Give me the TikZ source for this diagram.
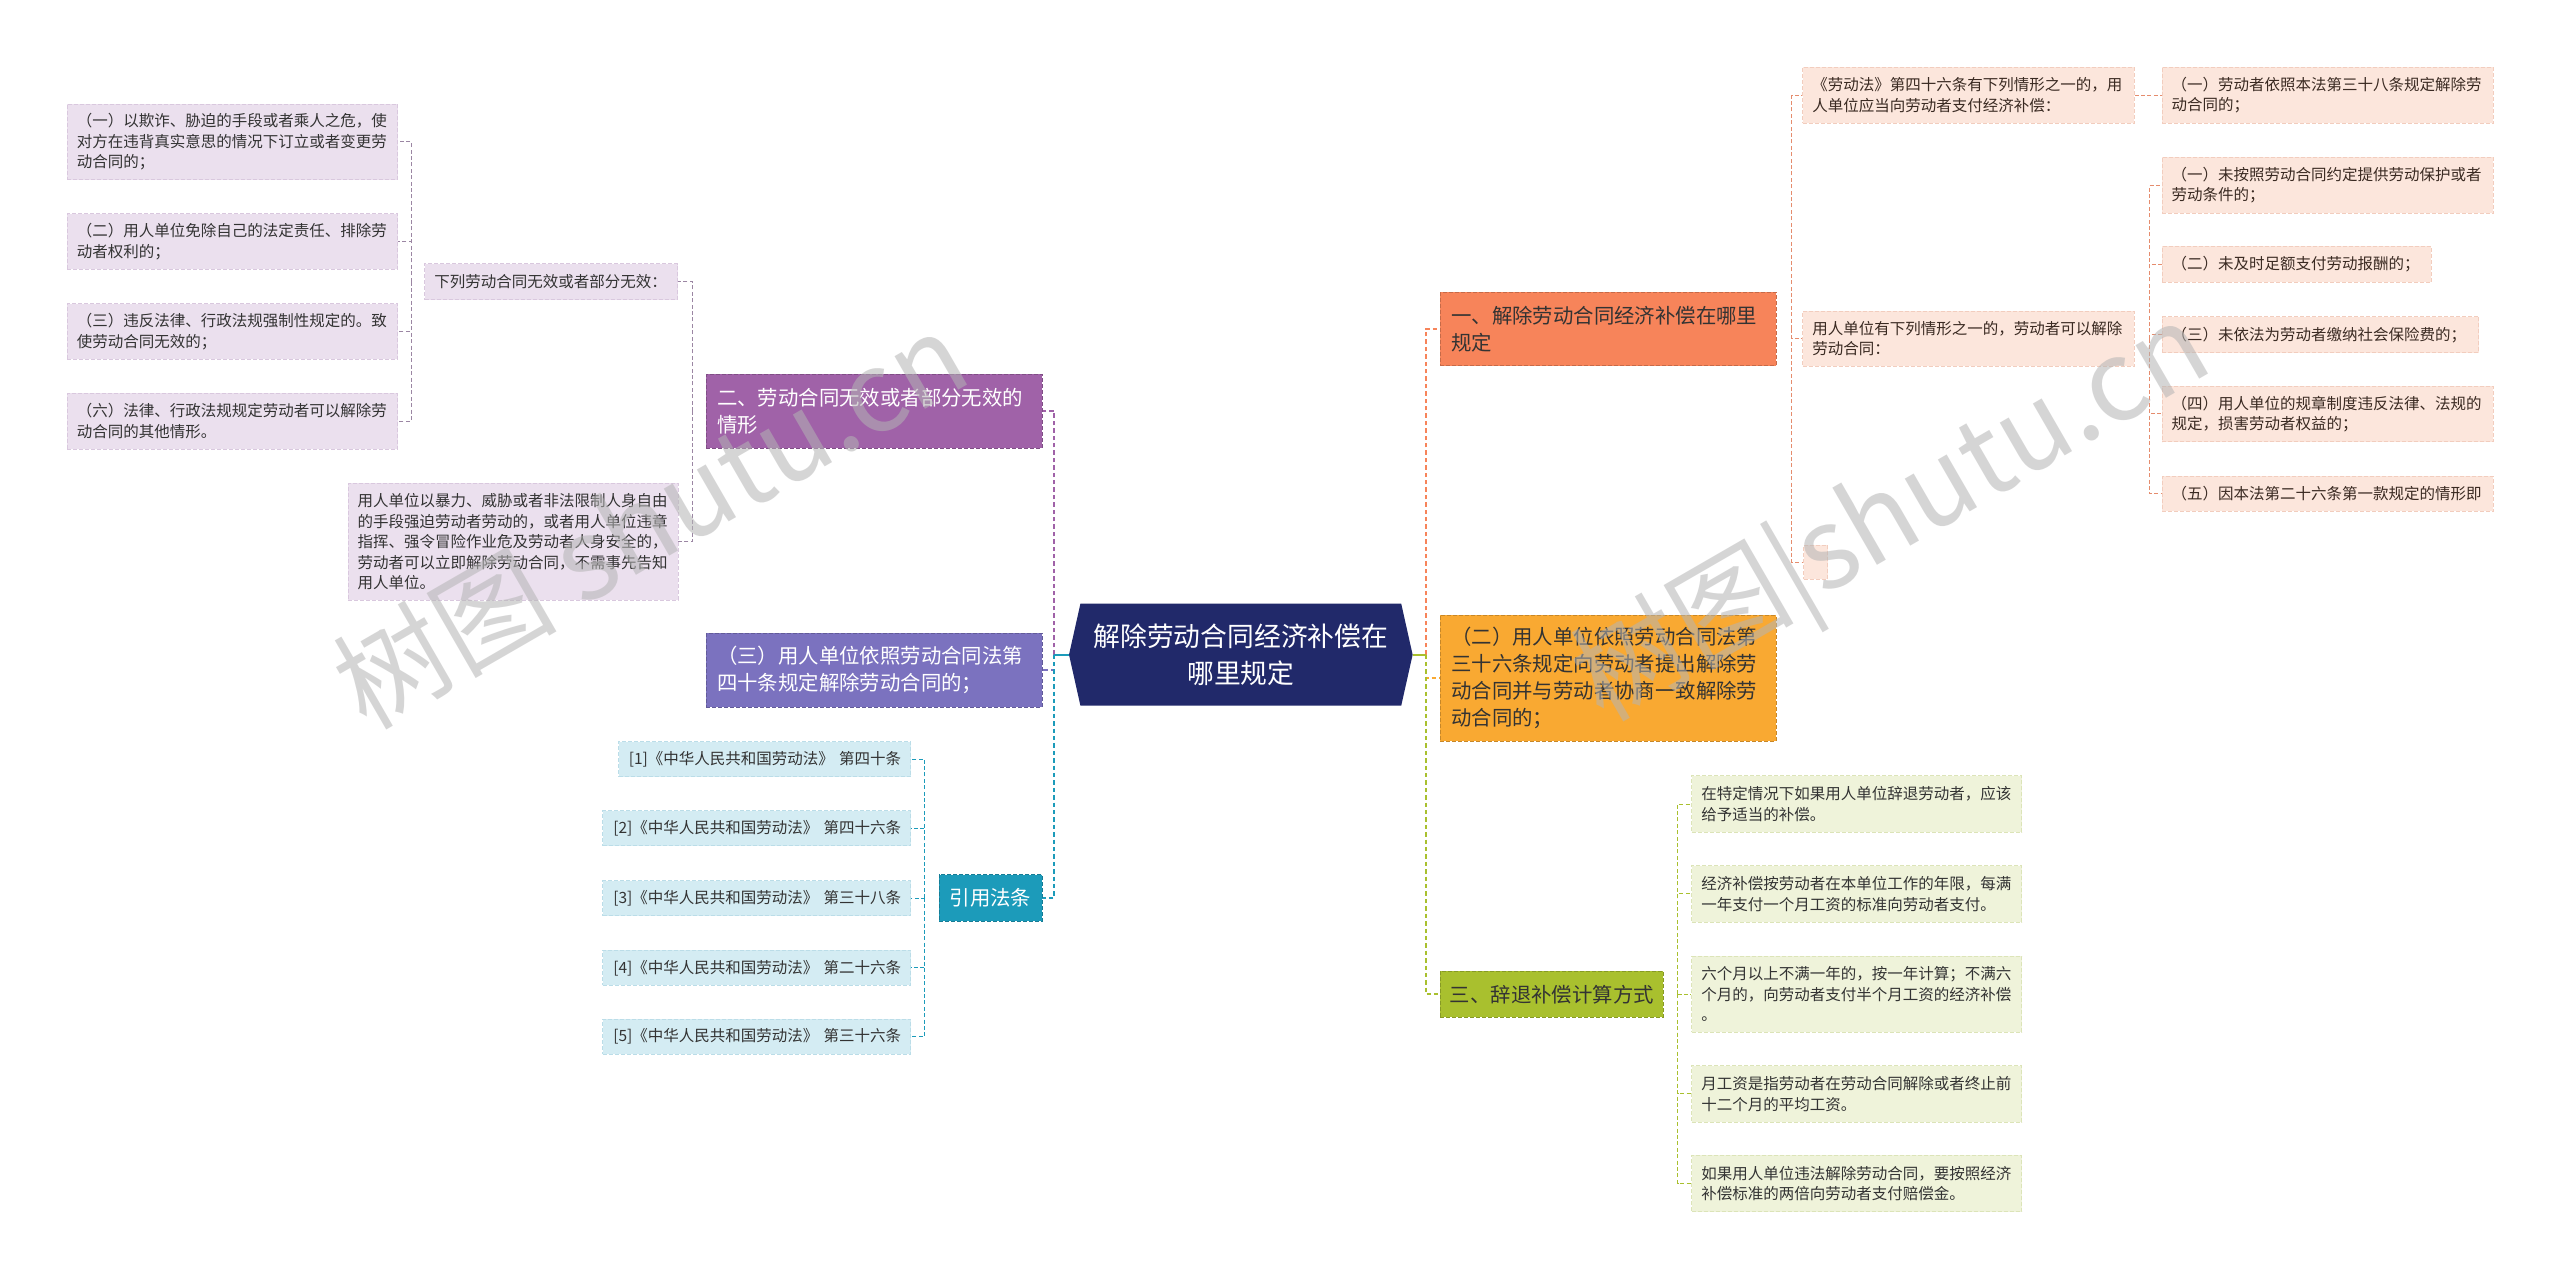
\documentclass[tikz,border=0pt]{standalone}
\usepackage{fontspec}
\setmainfont{Noto Sans CJK SC}
\pgfdeclarelayer{background}
\pgfsetlayers{background,main}
\definecolor{pleaf}{HTML}{EBE0EE}
\definecolor{pleafd}{HTML}{D9C8DE}
\definecolor{bleaf}{HTML}{D4ECF3}
\definecolor{bleafd}{HTML}{BBDDE8}
\definecolor{rleaf}{HTML}{FCE6DC}
\definecolor{rleafd}{HTML}{F2CDBE}
\definecolor{gleaf}{HTML}{EFF3DA}
\definecolor{gleafd}{HTML}{DCE4B8}
\definecolor{leaftxt}{HTML}{333333}
\definecolor{rtxt}{HTML}{3A2A22}
\definecolor{cpurple}{HTML}{A062A8}
\definecolor{cslate}{HTML}{7B72BF}
\definecolor{cteal}{HTML}{1C9BBA}
\definecolor{cnavy}{HTML}{21296A}
\definecolor{corange}{HTML}{F7845A}
\definecolor{cyellow}{HTML}{F9A932}
\definecolor{cgreen}{HTML}{A9C02E}
\definecolor{plink}{HTML}{9B86A3}
\definecolor{rlink}{HTML}{E58C6D}
\definecolor{wmgray}{HTML}{B4B4B4}
\tikzset{
  box/.style={rectangle, anchor=west, inner ysep=0pt, inner xsep=4.8pt, align=left, line width=0.4pt, dash pattern=on 2pt off 1pt},
  leaf/.style={box, font=\fontsize{7.75}{10.2}\selectfont, text=leaftxt},
  pl/.style={leaf, fill=pleaf, draw=pleafd},
  bl/.style={leaf, fill=bleaf, draw=bleafd, anchor=east, align=right},
  rl/.style={leaf, fill=rleaf, draw=rleafd, text=rtxt},
  gl/.style={leaf, fill=gleaf, draw=gleafd},
  mainnode/.style={box, inner xsep=5.4pt, text width=157pt, font=\fontsize{10.2}{13.5}\selectfont},
  rootnode/.style={rectangle, inner sep=0pt, minimum width=171.4pt, minimum height=50.6pt, align=center, text=white, font=\fontsize{13.4}{18.1}\selectfont},
  lk/.style={line width=0.5pt, dash pattern=on 2pt off 1.2pt},
  trunk/.style={line width=0.9pt, dash pattern=on 2.2pt off 1.5pt},
  wm/.style={rotate=30, text=wmgray, opacity=0.55, font=\fontsize{56}{56}\selectfont, inner sep=0pt},
}
\begin{document}
\begin{tikzpicture}[x=0.8163pt,y=-0.8163pt]
\begin{pgfonlayer}{background}
\fill[white] (0,0) rectangle (1568,783);
\end{pgfonlayer}
\useasboundingbox (0,0) rectangle (1568,783);

% root
\node[rootnode] (root) at (760,401) {解除劳动合同经济补偿在\\哪里规定};
\begin{pgfonlayer}{background}
\fill[cnavy] (root.west) -- ([xshift=5.7pt]root.north west) -- ([xshift=-5.7pt]root.north east) -- (root.east) -- ([xshift=-5.7pt]root.south east) -- ([xshift=5.7pt]root.south west) -- cycle;
\end{pgfonlayer}

% left main branches
\node[mainnode, fill=cpurple, draw=cpurple!80!black, text=white, minimum height=37.1pt] (b2) at (432.4,251.8) {二、劳动合同无效或者部分无效的\\情形};
\node[mainnode, fill=cslate, draw=cslate!80!black, text=white, minimum height=36.7pt] (b3) at (432.4,410.5) {（三）用人单位依照劳动合同法第\\四十条规定解除劳动合同的；};
\node[box, fill=cteal, draw=cteal!80!black, text=white, inner xsep=5.3pt, minimum height=23.3pt, font=\fontsize{10.2}{13.5}\selectfont] (yf) at (575,550) {引用法条};

% purple leaves
\node[pl, text width=155.7pt, minimum height=37.8pt] (p1) at (40.9,86.9) {（一）以欺诈、胁迫的手段或者乘人之危，使\\对方在违背真实意思的情况下订立或者变更劳\\动合同的；};
\node[pl, text width=155.7pt, minimum height=27.8pt] (p2) at (40.9,148) {（二）用人单位免除自己的法定责任、排除劳\\动者权利的；};
\node[pl, text width=155.7pt, minimum height=27.8pt] (p3) at (40.9,203) {（三）违反法律、行政法规强制性规定的。致\\使劳动合同无效的；};
\node[pl, text width=155.7pt, minimum height=27.8pt] (p6) at (40.9,258) {（六）法律、行政法规规定劳动者可以解除劳\\动合同的其他情形。};
\node[pl, text width=116.7pt, minimum height=18pt] (xl) at (260,172.5) {下列劳动合同无效或者部分无效：};
\node[pl, text width=155.4pt, minimum height=58.4pt] (bl) at (212.9,331.8) {用人单位以暴力、威胁或者非法限制人身自由\\的手段强迫劳动者劳动的，或者用人单位违章\\指挥、强令冒险作业危及劳动者人身安全的，\\劳动者可以立即解除劳动合同，不需事先告知\\用人单位。};

% citations
\node[bl, text width=136.4pt, minimum height=17.6pt] (c1) at (558,465) {[1]《中华人民共和国劳动法》 第四十条};
\node[bl, text width=144.3pt, minimum height=17.6pt] (c2) at (558,507.3) {[2]《中华人民共和国劳动法》 第四十六条};
\node[bl, text width=144.3pt, minimum height=17.6pt] (c3) at (558,550.2) {[3]《中华人民共和国劳动法》 第三十八条};
\node[bl, text width=144.3pt, minimum height=17.6pt] (c4) at (558,592.8) {[4]《中华人民共和国劳动法》 第二十六条};
\node[bl, text width=144.3pt, minimum height=17.6pt] (c5) at (558,635) {[5]《中华人民共和国劳动法》 第三十六条};

% right main branches
\node[mainnode, fill=corange, draw=corange!80!black, text=leaftxt, minimum height=36.7pt] (r1) at (882,201.5) {一、解除劳动合同经济补偿在哪里\\规定};
\node[mainnode, fill=cyellow, draw=cyellow!80!black, text=leaftxt, minimum height=62.9pt] (r2) at (882,415.5) {（二）用人单位依照劳动合同法第\\三十六条规定向劳动者提出解除劳\\动合同并与劳动者协商一致解除劳\\动合同的；};
\node[box, fill=cgreen, draw=cgreen!80!black, text=leaftxt, text width=102pt, inner xsep=4.7pt, minimum height=23.2pt, font=\fontsize{10.2}{13.5}\selectfont] (r3) at (882,609) {三、辞退补偿计算方式};

% pink leaves
\node[rl, text width=156.1pt, minimum height=28.1pt] (a1) at (1104,58.2) {《劳动法》第四十六条有下列情形之一的，用\\人单位应当向劳动者支付经济补偿：};
\node[rl, text width=156.1pt, minimum height=28.1pt] (a1c) at (1324,58.2) {（一）劳动者依照本法第三十八条规定解除劳\\动合同的；};
\node[rl, text width=156.1pt, minimum height=27.6pt] (a2) at (1104,207.5) {用人单位有下列情形之一的，劳动者可以解除\\劳动合同：};
\node[rl, minimum width=12pt, minimum height=17pt, inner xsep=0pt] (a3) at (1104.5,344.5) {};
\node[rl, text width=156.1pt, minimum height=28.2pt] (d1) at (1324,113.5) {（一）未按照劳动合同约定提供劳动保护或者\\劳动条件的；};
\node[rl, text width=125.1pt, minimum height=18pt] (d2) at (1324,162) {（二）未及时足额支付劳动报酬的；};
\node[rl, text width=148.8pt, minimum height=18pt] (d3) at (1324,205) {（三）未依法为劳动者缴纳社会保险费的；};
\node[rl, text width=156.1pt, minimum height=27.8pt] (d4) at (1324,253.5) {（四）用人单位的规章制度违反法律、法规的\\规定，损害劳动者权益的；};
\node[rl, text width=156.1pt, minimum height=17.5pt] (d5) at (1324,302.5) {（五）因本法第二十六条第一款规定的情形即};

% green leaves
\node[gl, text width=155.4pt, minimum height=28.2pt] (g1) at (1036,492.5) {在特定情况下如果用人单位辞退劳动者，应该\\给予适当的补偿。};
\node[gl, text width=155.4pt, minimum height=28.2pt] (g2) at (1036,547.5) {经济补偿按劳动者在本单位工作的年限，每满\\一年支付一个月工资的标准向劳动者支付。};
\node[gl, text width=155.4pt, minimum height=37.9pt] (g3) at (1036,609) {六个月以上不满一年的，按一年计算；不满六\\个月的，向劳动者支付半个月工资的经济补偿\\。};
\node[gl, text width=155.4pt, minimum height=28.2pt] (g4) at (1036,670) {月工资是指劳动者在劳动合同解除或者终止前\\十二个月的平均工资。};
\node[gl, text width=155.4pt, minimum height=28.2pt] (g5) at (1036,725) {如果用人单位违法解除劳动合同，要按照经济\\补偿标准的两倍向劳动者支付赔偿金。};

% connectors
\begin{pgfonlayer}{background}
\draw[trunk, cpurple] (root.west) ++(-9,0) |- (b2.east);
\draw[trunk, cslate] (root.west) ++(-9,0) |- (b3.east);
\draw[trunk, cteal] (root.west) ++(-9,0) |- (yf.east);
\draw[line width=0.9pt, cteal] (root.west) -- ++(-9,0);
\draw[trunk, corange] (root.east) ++(8,0) |- (r1.west);
\draw[trunk, cyellow] (root.east) ++(8,0) |- (r2.west);
\draw[trunk, cgreen] (root.east) ++(8,0) |- (r3.west);
\draw[line width=0.9pt, cgreen] (root.east) -- ++(8,0);
\foreach \n in {p1,p2,p3,p6} \draw[lk, plink] (xl.west) ++(-8.2,0) |- (\n.east);
\foreach \n in {xl,bl} \draw[lk, plink] (b2.west) ++(-8.4,0) |- (\n.east);
\foreach \i in {1,...,5} \draw[lk, cteal] (yf.west) ++(-8.5,0) |- (c\i.east);
\foreach \n in {a1,a2,a3} \draw[lk, rlink] (r1.east) ++(9.5,0) |- (\n.west);
\draw[lk, rlink] (a1.east) -- (a1c.west);
\foreach \i in {1,...,5} \draw[lk, rlink] (a2.east) ++(9,0) |- (d\i.west);
\foreach \i in {1,...,5} \draw[lk, cgreen] (r3.east) ++(8.5,0) |- (g\i.west);
\end{pgfonlayer}

% watermarks
\node[wm] (wm1) at (398,318) {树图 shutu.cn};
\node[wm] (wm2) at (1160,318) {树图|shutu.cn};
\end{tikzpicture}
\end{document}
